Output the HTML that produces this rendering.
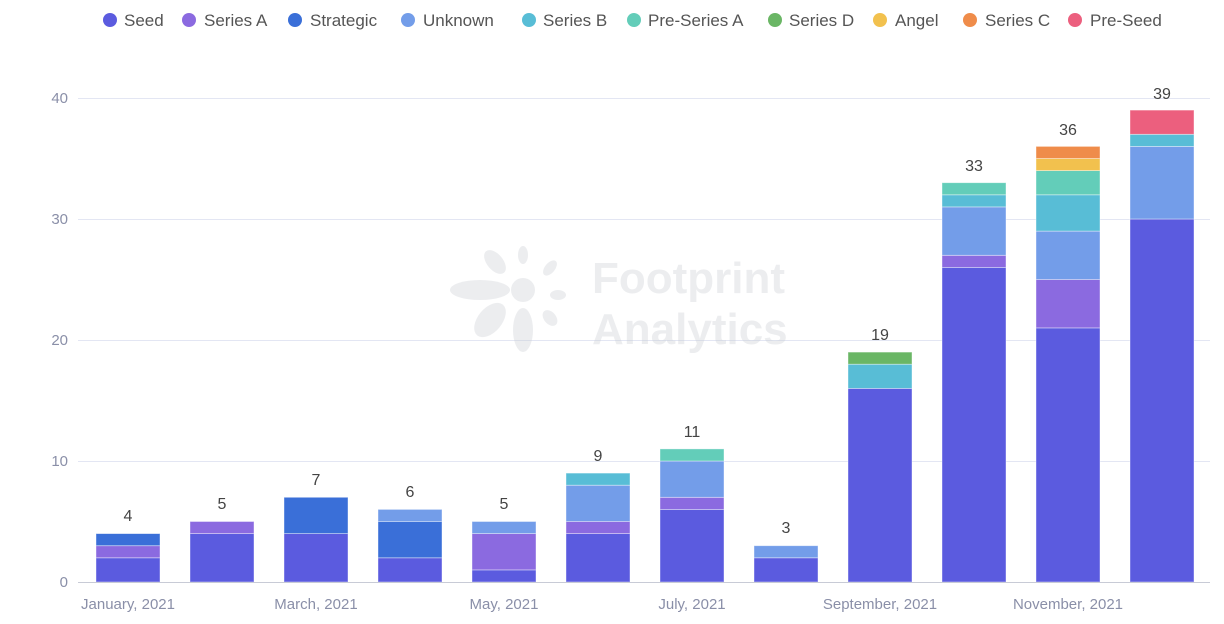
<!DOCTYPE html>
<html><head><style>
body{margin:0;background:#fff;font-family:"Liberation Sans",sans-serif}
</style></head><body>
<svg width="1224" height="619" xmlns="http://www.w3.org/2000/svg" font-family="Liberation Sans, sans-serif">
<g font-size="17" fill="#555">
<circle cx="110" cy="20" r="7" fill="#5b5bdf"/><text x="124" y="26">Seed</text>
<circle cx="189" cy="20" r="7" fill="#8b6ae0"/><text x="204" y="26">Series A</text>
<circle cx="295" cy="20" r="7" fill="#3a6fd8"/><text x="310" y="26">Strategic</text>
<circle cx="408" cy="20" r="7" fill="#739de9"/><text x="423" y="26">Unknown</text>
<circle cx="529" cy="20" r="7" fill="#58bdd6"/><text x="543" y="26">Series B</text>
<circle cx="634" cy="20" r="7" fill="#63cdb9"/><text x="648" y="26">Pre-Series A</text>
<circle cx="775" cy="20" r="7" fill="#6ab665"/><text x="789" y="26">Series D</text>
<circle cx="880" cy="20" r="7" fill="#f2c14e"/><text x="895" y="26">Angel</text>
<circle cx="970" cy="20" r="7" fill="#ef8c4a"/><text x="985" y="26">Series C</text>
<circle cx="1075" cy="20" r="7" fill="#ec5f7e"/><text x="1090" y="26">Pre-Seed</text>
</g>
<g stroke="#e3e6f3" stroke-width="1">
<line x1="78" x2="1210" y1="98.5" y2="98.5"/><line x1="78" x2="1210" y1="219.5" y2="219.5"/>
<line x1="78" x2="1210" y1="340.5" y2="340.5"/><line x1="78" x2="1210" y1="461.5" y2="461.5"/>
</g>
<g font-size="15" fill="#8a8fa8" text-anchor="end">
<text x="68" y="103">40</text><text x="68" y="224">30</text><text x="68" y="345">20</text><text x="68" y="466">10</text><text x="68" y="587">0</text>
</g>
<g opacity="0.35" fill="#c9cdd3">
<circle cx="523" cy="290" r="12"/><ellipse cx="480" cy="290" rx="30" ry="10"/><ellipse cx="523" cy="330" rx="10" ry="22"/><ellipse cx="490" cy="320" rx="12" ry="20" transform="rotate(40 490 320)"/><ellipse cx="495" cy="262" rx="8" ry="14" transform="rotate(-40 495 262)"/><ellipse cx="523" cy="255" rx="5" ry="9"/><ellipse cx="550" cy="268" rx="5" ry="9" transform="rotate(40 550 268)"/><ellipse cx="558" cy="295" rx="8" ry="5"/><ellipse cx="550" cy="318" rx="6" ry="9" transform="rotate(-40 550 318)"/>
<text x="592" y="293" font-size="44" font-weight="bold">Footprint</text>
<text x="592" y="344" font-size="44" font-weight="bold">Analytics</text>
</g>
<g stroke="#fff" stroke-opacity="0.5" stroke-width="0.8">
<rect x="96" y="557.8" width="64" height="24.2" fill="#5b5bdf"/><rect x="96" y="545.7" width="64" height="12.1" fill="#8b6ae0"/><rect x="96" y="533.6" width="64" height="12.1" fill="#3a6fd8"/>
<rect x="190" y="533.6" width="64" height="48.4" fill="#5b5bdf"/><rect x="190" y="521.5" width="64" height="12.1" fill="#8b6ae0"/>
<rect x="284" y="533.6" width="64" height="48.4" fill="#5b5bdf"/><rect x="284" y="497.3" width="64" height="36.3" fill="#3a6fd8"/>
<rect x="378" y="557.8" width="64" height="24.2" fill="#5b5bdf"/><rect x="378" y="521.5" width="64" height="36.3" fill="#3a6fd8"/><rect x="378" y="509.4" width="64" height="12.1" fill="#739de9"/>
<rect x="472" y="569.9" width="64" height="12.1" fill="#5b5bdf"/><rect x="472" y="533.6" width="64" height="36.3" fill="#8b6ae0"/><rect x="472" y="521.5" width="64" height="12.1" fill="#739de9"/>
<rect x="566" y="533.6" width="64" height="48.4" fill="#5b5bdf"/><rect x="566" y="521.5" width="64" height="12.1" fill="#8b6ae0"/><rect x="566" y="485.2" width="64" height="36.3" fill="#739de9"/><rect x="566" y="473.1" width="64" height="12.1" fill="#58bdd6"/>
<rect x="660" y="509.4" width="64" height="72.6" fill="#5b5bdf"/><rect x="660" y="497.3" width="64" height="12.1" fill="#8b6ae0"/><rect x="660" y="461" width="64" height="36.3" fill="#739de9"/><rect x="660" y="448.9" width="64" height="12.1" fill="#63cdb9"/>
<rect x="754" y="557.8" width="64" height="24.2" fill="#5b5bdf"/><rect x="754" y="545.7" width="64" height="12.1" fill="#739de9"/>
<rect x="848" y="388.4" width="64" height="193.6" fill="#5b5bdf"/><rect x="848" y="364.2" width="64" height="24.2" fill="#58bdd6"/><rect x="848" y="352.1" width="64" height="12.1" fill="#6ab665"/>
<rect x="942" y="267.4" width="64" height="314.6" fill="#5b5bdf"/><rect x="942" y="255.3" width="64" height="12.1" fill="#8b6ae0"/><rect x="942" y="206.9" width="64" height="48.4" fill="#739de9"/><rect x="942" y="194.8" width="64" height="12.1" fill="#58bdd6"/><rect x="942" y="182.7" width="64" height="12.1" fill="#63cdb9"/>
<rect x="1036" y="327.9" width="64" height="254.1" fill="#5b5bdf"/><rect x="1036" y="279.5" width="64" height="48.4" fill="#8b6ae0"/><rect x="1036" y="231.1" width="64" height="48.4" fill="#739de9"/><rect x="1036" y="194.8" width="64" height="36.3" fill="#58bdd6"/><rect x="1036" y="170.6" width="64" height="24.2" fill="#63cdb9"/><rect x="1036" y="158.5" width="64" height="12.1" fill="#f2c14e"/><rect x="1036" y="146.4" width="64" height="12.1" fill="#ef8c4a"/>
<rect x="1130" y="219" width="64" height="363" fill="#5b5bdf"/><rect x="1130" y="146.4" width="64" height="72.6" fill="#739de9"/><rect x="1130" y="134.3" width="64" height="12.1" fill="#58bdd6"/><rect x="1130" y="110.1" width="64" height="24.2" fill="#ec5f7e"/>
</g>
<g font-size="16" fill="#444" text-anchor="middle">
<text x="128" y="521">4</text><text x="222" y="509">5</text><text x="316" y="485">7</text><text x="410" y="497">6</text><text x="504" y="509">5</text><text x="598" y="461">9</text><text x="692" y="437">11</text><text x="786" y="533">3</text><text x="880" y="340">19</text><text x="974" y="171">33</text><text x="1068" y="135">36</text><text x="1162" y="99">39</text>
</g>
<line x1="78" x2="1210" y1="582.5" y2="582.5" stroke="#c8cbd6"/>
<g font-size="15" fill="#8a8fa8" text-anchor="middle">
<text x="128" y="609">January, 2021</text><text x="316" y="609">March, 2021</text><text x="504" y="609">May, 2021</text>
<text x="692" y="609">July, 2021</text><text x="880" y="609">September, 2021</text><text x="1068" y="609">November, 2021</text>
</g>
</svg>
</body></html>
